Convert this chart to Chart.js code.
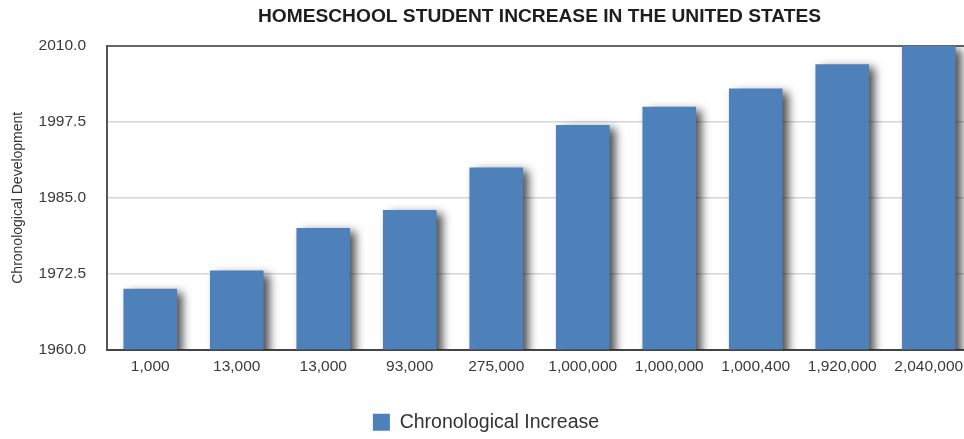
<!DOCTYPE html>
<html>
<head>
<meta charset="utf-8">
<script src="https://cdn.jsdelivr.net/npm/chart.js@4"></script>
<style>
  html, body { margin: 0; padding: 0; background: #fff; overflow: hidden; }
  #wrap { width: 964px; height: 439px; overflow: hidden; }
</style>
</head>
<body>
<div id="wrap">
  <canvas id="chartHS" width="976" height="442"></canvas>
</div>
<script>
// datos
const categorias = ['1,000', '13,000', '13,000', '93,000', '275,000', '1,000,000', '1,000,000', '1,000,400', '1,920,000', '2,040,000'];
const anios = [1970, 1973, 1980, 1983, 1990, 1997, 2000, 2003, 2007, 2010];
const ticksY = [1960, 1972.5, 1985, 1997.5, 2010];

const fuente = "'Liberation Sans', Arial, Helvetica, sans-serif";

// sombra de las barras
const sombraBarras = {
  id: 'sombraBarras',
  beforeDatasetsDraw(chart) {
    const ctx = chart.ctx;
    ctx.save();
    ctx.shadowColor = 'rgba(0,0,0,0.7)';
    ctx.shadowBlur = 9;
    ctx.shadowOffsetX = 6;
    ctx.shadowOffsetY = 3;
  },
  afterDatasetsDraw(chart) {
    chart.ctx.restore();
  }
};

const config = {
  type: 'bar',
  data: {
    labels: categorias,
    datasets: [{
      label: 'Chronological Increase',
      data: anios,
      backgroundColor: '#4E80BA',
      borderWidth: 0,
      barPercentage: 0.62,
      categoryPercentage: 1
    }]
  },
  options: {
    responsive: false,
    animation: false,
    layout: { padding: { left: 0, right: 4, top: 0, bottom: 0 } },
    scales: {
      x: {
        grid: { display: false, drawTicks: false },
        border: { display: true, color: '#444', width: 2 },
        ticks: { color: '#3a3a3a', font: { family: fuente, size: 15.5 }, padding: 8, maxRotation: 0, autoSkip: false },
        afterFit: (s) => { s.height = 53; }
      },
      y: {
        min: 1960,
        max: 2010,
        afterBuildTicks: (s) => { s.ticks = ticksY.map(v => ({ value: v })); },
        grid: {
          drawTicks: false,
          color: (c) => c.tick && c.tick.value === 2010 ? '#666' : '#d6d6d6',
          lineWidth: (c) => c.tick && c.tick.value === 2010 ? 2 : 1.5
        },
        border: { display: true, color: '#555', width: 2 },
        ticks: {
          color: '#3a3a3a',
          font: { family: fuente, size: 15.5 },
          padding: 21,
          callback: (v) => Number(v).toFixed(1)
        },
        title: {
          display: true,
          text: 'Chronological Development',
          color: '#333',
          font: { family: fuente, size: 14 },
          padding: { top: 10, bottom: 0 }
        },
        afterFit: (s) => { s.width = 107; }
      }
    },
    plugins: {
      title: {
        display: true,
        fullSize: false,
        text: 'HOMESCHOOL STUDENT INCREASE IN THE UNITED STATES',
        color: '#1e1e1e',
        font: { family: fuente, size: 19.2, weight: 'bold' },
        padding: { top: 5, bottom: 18 }
      },
      legend: {
        position: 'bottom',
        labels: {
          boxWidth: 17,
          boxHeight: 17,
          padding: 10,
          color: '#333',
          font: { family: fuente, size: 19.5 }
        }
      },
      tooltip: { enabled: false }
    }
  },
  plugins: [sombraBarras]
};

const graficoHS = new Chart(document.getElementById('chartHS'), config);
</script>
</body>
</html>
